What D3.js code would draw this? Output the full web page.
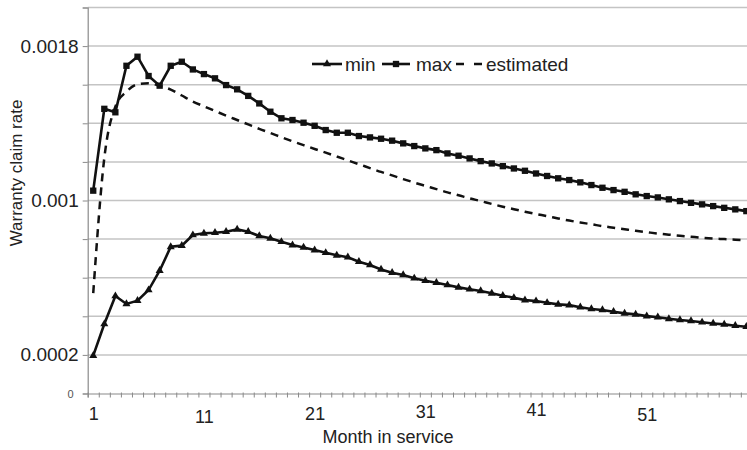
<!DOCTYPE html>
<html>
<head>
<meta charset="utf-8">
<script src="https://cdn.jsdelivr.net/npm/d3@7/dist/d3.min.js"></script>
<style>
  body { margin: 0; background: #fff; }
  svg { display: block; font-family: "Liberation Sans", Arial, sans-serif; }
</style>
</head>
<body>
<div id="chart"></div>
<script>
// data, one value per month in service
var months = d3.range(1, 61);

var minRate = [
  0.000196, 0.000360, 0.000505, 0.000464, 0.000481, 0.000536, 0.000636, 0.000760, 0.000766, 0.000821,
  0.000830, 0.000833, 0.000838, 0.000850, 0.000838, 0.000816, 0.000804, 0.000786, 0.000769, 0.000757,
  0.000743, 0.000729, 0.000716, 0.000706, 0.000683, 0.000666, 0.000643, 0.000626, 0.000614, 0.000597,
  0.000584, 0.000574, 0.000562, 0.000550, 0.000540, 0.000531, 0.000519, 0.000507, 0.000496, 0.000484,
  0.000479, 0.000470, 0.000462, 0.000458, 0.000447, 0.000438, 0.000433, 0.000424, 0.000415, 0.000410,
  0.000401, 0.000395, 0.000387, 0.000381, 0.000376, 0.000369, 0.000363, 0.000358, 0.000351, 0.000346
];

var maxRate = [
  0.001051, 0.001475, 0.001457, 0.001698, 0.001745, 0.001645, 0.001595, 0.001698, 0.001719, 0.001679,
  0.001655, 0.001633, 0.001598, 0.001576, 0.001542, 0.001503, 0.001460, 0.001426, 0.001417, 0.001403,
  0.001387, 0.001365, 0.001351, 0.001351, 0.001334, 0.001327, 0.001320, 0.001310, 0.001296, 0.001282,
  0.001270, 0.001261, 0.001244, 0.001232, 0.001218, 0.001204, 0.001192, 0.001178, 0.001166, 0.001154,
  0.001140, 0.001127, 0.001115, 0.001106, 0.001094, 0.001080, 0.001066, 0.001054, 0.001045, 0.001032,
  0.001023, 0.001016, 0.001006, 0.000997, 0.000988, 0.000980, 0.000971, 0.000962, 0.000954, 0.000945
];

var estRate = [
  0.000520, 0.001220, 0.001486, 0.001564, 0.001602, 0.001607, 0.001594, 0.001575, 0.001544, 0.001513,
  0.001488, 0.001464, 0.001440, 0.001417, 0.001394, 0.001371, 0.001350, 0.001328, 0.001307, 0.001287,
  0.001267, 0.001248, 0.001228, 0.001208, 0.001188, 0.001168, 0.001148, 0.001130, 0.001111, 0.001093,
  0.001076, 0.001059, 0.001042, 0.001027, 0.001011, 0.000997, 0.000982, 0.000968, 0.000955, 0.000942,
  0.000930, 0.000919, 0.000907, 0.000896, 0.000886, 0.000877, 0.000867, 0.000859, 0.000851, 0.000843,
  0.000836, 0.000829, 0.000823, 0.000817, 0.000812, 0.000807, 0.000803, 0.000800, 0.000797, 0.000794
];

var yTicks = [0, 0.0002, 0.0004, 0.0006, 0.0008, 0.001, 0.0012, 0.0014, 0.0016, 0.0018, 0.002];
var yLabels = [0, 0.0002, 0.001, 0.0018];
var xLabels = [1, 11, 21, 31, 41, 51];
var xLabelShift = [1, 4, 1, -1, -3, 2];

var width = 747, height = 450;
var plotLeft = 87.7, plotBottom = 393.5, plotTop = 7.5;
var step = 11.07;

var svg = d3.select("#chart")
  .append("svg")
  .attr("width", width)
  .attr("height", height);

var x = d3.scaleLinear()
  .domain([0.5, 60.5])
  .range([plotLeft, plotLeft + 60 * step]);

var y = d3.scaleLinear()
  .domain([0, 0.002])
  .range([plotBottom, plotTop]);

// gridlines
svg.append("g")
  .selectAll("line")
  .data(yTicks.filter(d => d > 0))
  .enter()
  .append("line")
  .attr("x1", plotLeft)
  .attr("x2", width)
  .attr("y1", d => y(d))
  .attr("y2", d => y(d))
  .attr("stroke", "#c4c4c4")
  .attr("stroke-width", 1.5);

// y axis, only some ticks carry a label
var yAxis = svg.append("g")
  .attr("transform", "translate(" + plotLeft + ",0)")
  .call(d3.axisLeft(y)
    .tickValues(yTicks)
    .tickSize(5)
    .tickPadding(4)
    .tickFormat(d => yLabels.some(v => Math.abs(v - d) < 1e-9) ? String(+d.toFixed(4)) : ""));

yAxis.select(".domain").attr("stroke", "#8a8a8a").attr("stroke-width", 1.2);
yAxis.selectAll(".tick line").attr("stroke", "#8a8a8a");
yAxis.selectAll(".tick text")
  .attr("fill", d => d === 0 ? "#555" : "#222")
  .style("font-size", d => d === 0 ? "11px" : "19px")
  .attr("x", d => d === 0 ? -14 : -9);

// x axis: ticks between months
var xAxis = svg.append("g")
  .attr("transform", "translate(0," + plotBottom + ")")
  .call(d3.axisBottom(x)
    .tickValues(d3.range(0.5, 61, 1))
    .tickSize(4)
    .tickFormat(""));
xAxis.select(".domain").attr("stroke", "#8a8a8a").attr("stroke-width", 1.2);
xAxis.selectAll(".tick line").attr("stroke", "#8a8a8a").attr("y1", -1);

var xLab = svg.append("g")
  .attr("transform", "translate(0," + plotBottom + ")")
  .call(d3.axisBottom(x)
    .tickValues(xLabels)
    .tickSize(0)
    .tickPadding(13));
xLab.select(".domain").remove();
xLab.selectAll(".tick text")
  .attr("fill", "#222")
  .style("font-size", "18px")
  .attr("dy", (d, i) => (0.71 * 18 + xLabelShift[i]) + "px");

// axis titles
svg.append("text")
  .attr("x", 388)
  .attr("y", 443)
  .attr("text-anchor", "middle")
  .attr("fill", "#222")
  .style("font-size", "18px")
  .text("Month in service");

svg.append("text")
  .attr("transform", "translate(22,173) rotate(-90)")
  .attr("text-anchor", "middle")
  .attr("fill", "#222")
  .style("font-size", "17px")
  .text("Warranty claim rate");

// lines
var line = d3.line()
  .x((d, i) => x(months[i]))
  .y(d => y(d));

svg.append("path")
  .attr("d", d3.line()
    .x((d, i) => x(months[i]))
    .y(d => y(d))
    .curve(d3.curveMonotoneX)(estRate))
  .attr("fill", "none")
  .attr("stroke", "#111")
  .attr("stroke-width", 2.5)
  .attr("stroke-dasharray", "8,6");

svg.append("path")
  .attr("d", line(maxRate))
  .attr("fill", "none")
  .attr("stroke", "#111")
  .attr("stroke-width", 2.6);

svg.append("path")
  .attr("d", line(minRate))
  .attr("fill", "none")
  .attr("stroke", "#111")
  .attr("stroke-width", 2.6);

var square = d3.symbol().type(d3.symbolSquare).size(40);
var triangle = d3.symbol().type(d3.symbolTriangle).size(28);

svg.append("g")
  .selectAll("path")
  .data(maxRate)
  .enter()
  .append("path")
  .attr("d", square)
  .attr("transform", (d, i) => "translate(" + x(months[i]) + "," + y(d) + ")")
  .attr("fill", "#111");

svg.append("g")
  .selectAll("path")
  .data(minRate)
  .enter()
  .append("path")
  .attr("d", triangle)
  .attr("transform", (d, i) => "translate(" + x(months[i]) + "," + y(d) + ")")
  .attr("fill", "#111");

// legend
var legend = svg.append("g").attr("transform", "translate(0,64)");

legend.append("line").attr("x1", 312).attr("x2", 342).attr("stroke", "#111").attr("stroke-width", 2.6);
legend.append("path").attr("d", triangle).attr("transform", "translate(327,0)").attr("fill", "#111");
legend.append("text").attr("x", 345).attr("y", 6.5).style("font-size", "19px").attr("fill", "#222").text("min");

legend.append("line").attr("x1", 382).attr("x2", 410).attr("stroke", "#111").attr("stroke-width", 2.6);
legend.append("path").attr("d", square).attr("transform", "translate(396,0)").attr("fill", "#111");
legend.append("text").attr("x", 416).attr("y", 6.5).style("font-size", "19px").attr("fill", "#222").text("max");

legend.append("line").attr("x1", 456).attr("x2", 484).attr("stroke", "#111").attr("stroke-width", 2.6)
  .attr("stroke-dasharray", "8,10");
legend.append("text").attr("x", 486).attr("y", 6.5).style("font-size", "19px").attr("fill", "#222").text("estimated");
</script>
</body>
</html>
